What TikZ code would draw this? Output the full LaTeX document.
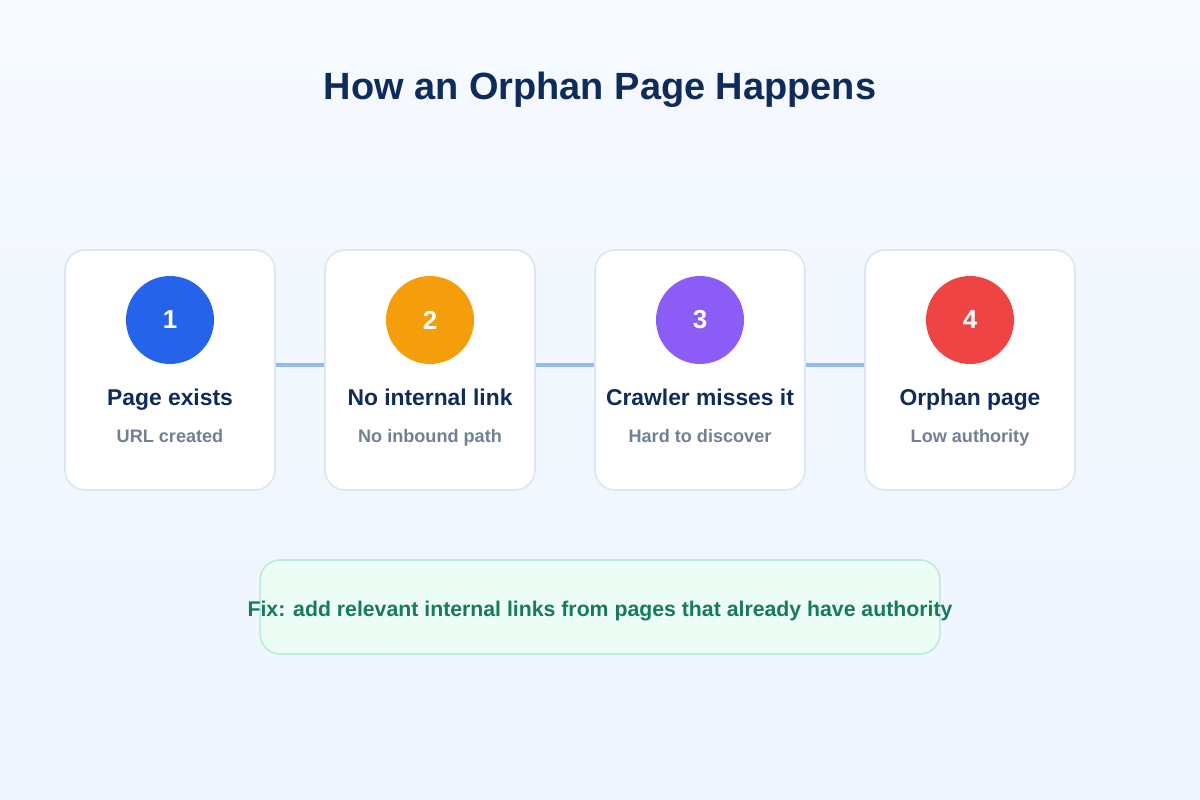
\documentclass[tikz,border=0pt]{standalone}
\usepackage{fontspec}
\setmainfont{Liberation Sans}
\definecolor{navy}{HTML}{0F2B5B}
\definecolor{subgray}{HTML}{718096}
\definecolor{cardline}{HTML}{DAE6F4}
\definecolor{linkblue}{HTML}{93BBEE}
\definecolor{stepblue}{HTML}{2563EB}
\definecolor{steporange}{HTML}{F59E0B}
\definecolor{steppurple}{HTML}{8B5CF6}
\definecolor{stepred}{HTML}{EF4444}
\definecolor{fixfill}{HTML}{ECFDF5}
\definecolor{fixline}{HTML}{BCEBDD}
\definecolor{fixtext}{HTML}{177A5C}
\definecolor{bgtop}{HTML}{F6FAFF}
\definecolor{bgbot}{HTML}{EEF5FD}

\tikzset{
  card/.style={draw=cardline, line width=0.9pt, fill=white, rounded corners=0.4cm,
    minimum width=4.2cm, minimum height=4.8cm, inner sep=0pt},
  badge/.style={circle, minimum size=1.76cm, inner sep=0pt, text=white,
    font=\fontsize{14.8}{16}\selectfont\bfseries},
  steptitle/.style={anchor=base, text=navy, font=\fontsize{13}{15}\selectfont\bfseries, inner sep=0pt},
  stepnote/.style={anchor=base, text=subgray, font=\fontsize{10.3}{12}\selectfont\bfseries, inner sep=0pt},
  link/.style={draw=linkblue, line width=2.3pt},
}

\begin{document}
\begin{tikzpicture}[x=0.02cm, y=-0.02cm]
  % background
  \shade[top color=bgtop, bottom color=bgbot] (0,0) rectangle (1200,800);
  \useasboundingbox (0,0) rectangle (1200,800);

  \node[anchor=base, text=navy, font=\fontsize{21.6}{25}\selectfont\bfseries] (title) at (600, 100) {How an Orphan Page Happens};

  % steps
  \node[card] (card1) at (170, 370) {};
  \node[card] (card2) at (430, 370) {};
  \node[card] (card3) at (700, 370) {};
  \node[card] (card4) at (970, 370) {};

  \draw[link] ([yshift=0.1cm]card1.east) -- ([yshift=0.1cm]card2.west);
  \draw[link] ([yshift=0.1cm]card2.east) -- ([yshift=0.1cm]card3.west);
  \draw[link] ([yshift=0.1cm]card3.east) -- ([yshift=0.1cm]card4.west);

  \node[badge, fill=stepblue] (num1) at (170, 320) {1};
  \node[badge, fill=steporange] (num2) at (430, 320) {2};
  \node[badge, fill=steppurple] (num3) at (700, 320) {3};
  \node[badge, fill=stepred] (num4) at (970, 320) {4};

  \node[steptitle] (head1) at (170, 405) {Page exists};
  \node[steptitle] (head2) at (430, 405) {No internal link};
  \node[steptitle] (head3) at (700, 405) {Crawler misses it};
  \node[steptitle] (head4) at (970, 405) {Orphan page};

  \node[stepnote] (note1) at (170, 442) {URL created};
  \node[stepnote] (note2) at (430, 442) {No inbound path};
  \node[stepnote] (note3) at (700, 442) {Hard to discover};
  \node[stepnote] (note4) at (970, 442) {Low authority};

  % fix
  \node[draw=fixline, line width=0.9pt, fill=fixfill, rounded corners=0.4cm,
    minimum width=13.6cm, minimum height=1.88cm] (fixbox) at (600, 607) {};
  \node[anchor=base, text=fixtext, font=\fontsize{12.1}{14}\selectfont\bfseries, inner sep=0pt] (fix) at (600, 616)
    {Fix: add relevant internal links from pages that already have authority};
\end{tikzpicture}
\end{document}
